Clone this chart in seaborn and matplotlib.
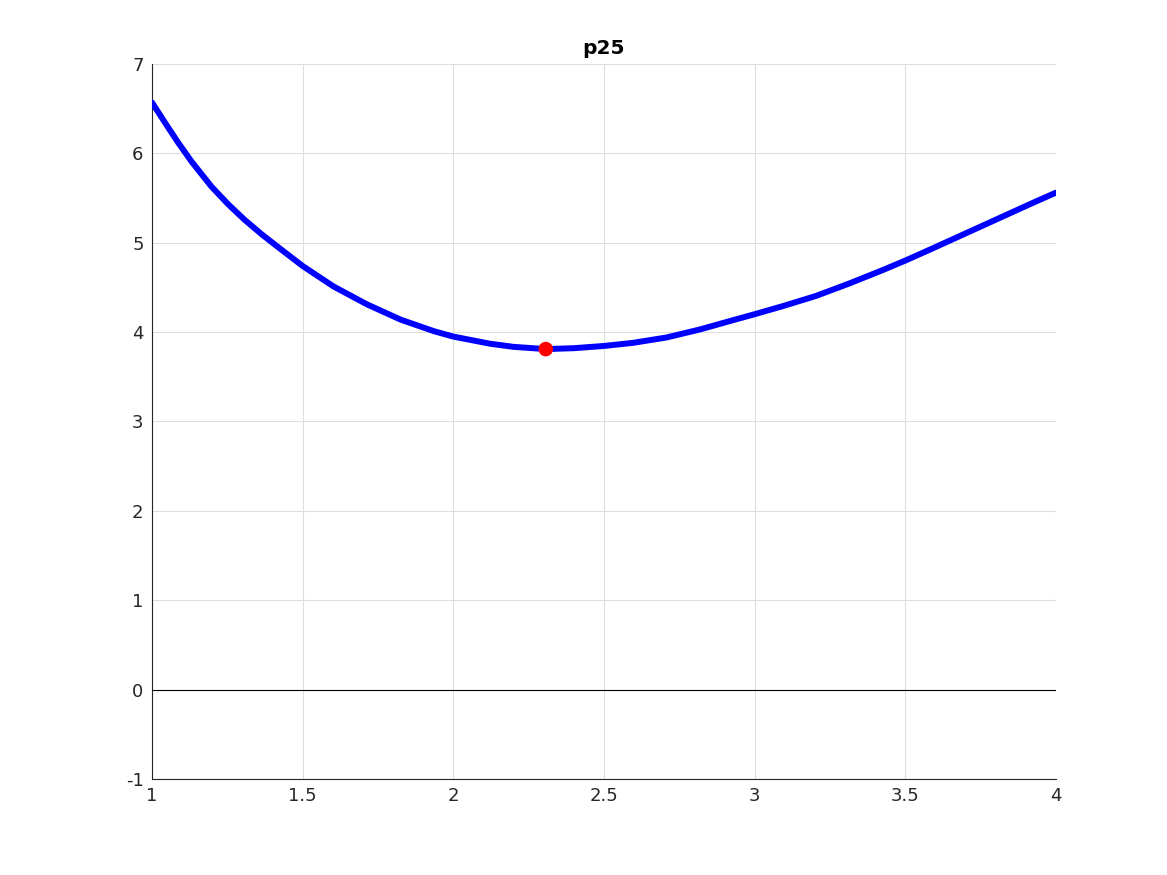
import pandas as pd
import matplotlib
matplotlib.use("Agg")
import matplotlib.pyplot as plt
import seaborn as sns

# values
x_vals = [1.0, 1.042, 1.087, 1.131, 1.197, 1.253, 1.308, 1.364, 1.419, 1.5,
          1.603, 1.714, 1.825, 1.936, 2.0, 2.122, 2.2, 2.307, 2.4, 2.5,
          2.597, 2.708, 2.819, 2.93, 3.0, 3.093, 3.204, 3.315, 3.426, 3.5,
          3.593, 3.704, 3.815, 3.926, 4.0]
y_vals = [6.57, 6.35, 6.12, 5.91, 5.63, 5.43, 5.255, 5.095, 4.95, 4.74,
          4.51, 4.31, 4.14, 4.01, 3.95, 3.87, 3.835, 3.81, 3.82, 3.845,
          3.88, 3.94, 4.03, 4.135, 4.20, 4.29, 4.405, 4.545, 4.695, 4.80,
          4.94, 5.11, 5.28, 5.45, 5.56]
min_x = [2.307]
min_y = [3.81]
title = "p25"

curve = pd.DataFrame({"x": x_vals, "y": y_vals})
point = pd.DataFrame({"x": min_x, "y": min_y})

sns.set_style("white")
plt.rcParams['font.family'] = ['DejaVu Sans']
plt.rcParams['axes.unicode_minus'] = False

fig = plt.figure(figsize=(11.67, 8.75), dpi=100)
ax = fig.add_axes([0.1302, 0.1097, 0.7746, 0.8172])

ax.axhline(0, color='black', lw=0.8, zorder=2)
sns.lineplot(data=curve, x="x", y="y", color='#0000ff', lw=4.3, ax=ax, zorder=3, sort=False)
sns.scatterplot(data=point, x="x", y="y", color='#ff0000', s=110, edgecolor='none', ax=ax, zorder=4)

ax.set_xlim(1, 4)
ax.set_ylim(-1, 7)
ax.set_xticks([1, 1.5, 2, 2.5, 3, 3.5, 4])
ax.set_xticklabels(['1', '1.5', '2', '2.5', '3', '3.5', '4'])
ax.set_yticks(range(-1, 8))
ax.grid(True, color='#dedede', lw=0.8)
ax.set_axisbelow(True)
for s in ['top', 'right']:
    ax.spines[s].set_visible(False)
for s in ['left', 'bottom']:
    ax.spines[s].set_color('#262626')
    ax.spines[s].set_linewidth(0.8)
ax.tick_params(direction='in', length=6, width=0.8, colors='#262626', labelsize=13, pad=6)
ax.set_xlabel('')
ax.set_ylabel('')
ax.set_title(title, fontsize=14.5, fontweight='bold', color='black', pad=7)

fig.savefig('out.png', dpi=100)
